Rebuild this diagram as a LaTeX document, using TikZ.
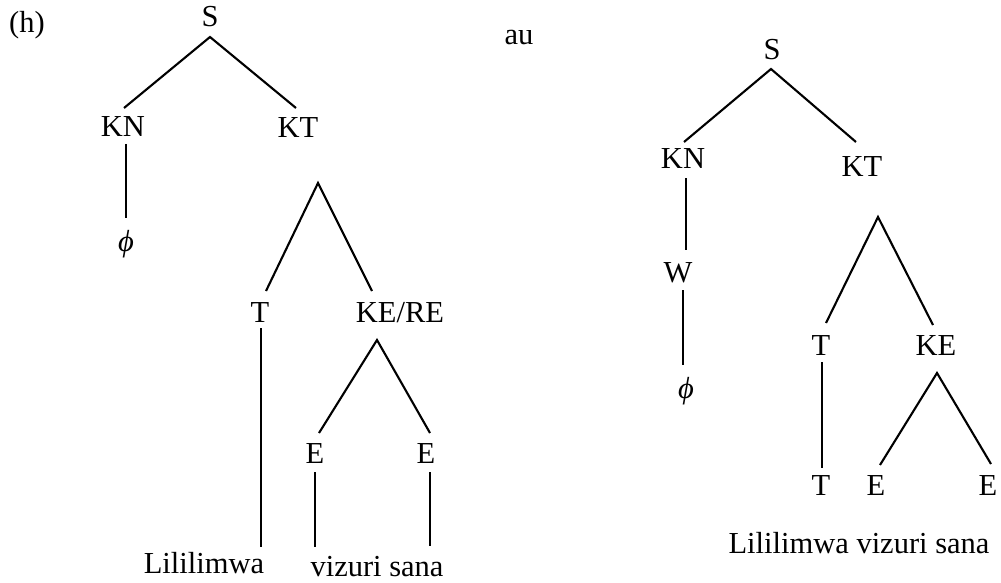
\documentclass[tikz,border=0pt]{standalone}
\usepackage{fontspec}
\setmainfont{Liberation Serif}
\begin{document}
\begin{tikzpicture}[x=1pt,y=-1pt,
  lbl/.style={inner sep=0pt,anchor=base,font=\fontsize{30.5}{36}\selectfont},
  phil/.style={inner sep=0pt,font=\fontsize{30.5}{36}\selectfont\itshape},
  edge/.style={line width=2.1pt}]
\useasboundingbox (0,0) rectangle (1001,583);
% ---------- left tree ----------
\node[lbl] (h) at (27,33) {(h)};
\node[lbl] (S1) at (210,27) {S};
\node[lbl] (KN1) at (123,137) {KN};
\node[lbl] (KT1) at (298,138) {KT};
\node[phil] (phi1) at (126,244) {ϕ};
\node[lbl] (T1) at (260,322) {T};
\node[lbl] (KERE) at (400,322) {KE/RE};
\node[lbl] (E1) at (315,463) {E};
\node[lbl] (E2) at (426,463) {E};
\node[lbl] (w1) at (204,573) {Lililimwa};
\node[lbl] (w2) at (377,576) {vizuri sana};
\coordinate (S1b) at (210,37);
\coordinate (KN1t) at (124,108);
\coordinate (KT1t) at (296,108);
\coordinate (KN1b) at (126,144);
\coordinate (phi1t) at (126,218);
\coordinate (apx1) at (318,183);
\coordinate (T1t) at (266,291);
\coordinate (KERE1t) at (372,291);
\coordinate (T1b) at (261,328);
\coordinate (w1t) at (261,547);
\coordinate (KEREb) at (377,340);
\coordinate (E1t) at (319,433);
\coordinate (E2t) at (430,433);
\coordinate (E1b) at (315,472);
\coordinate (E1e) at (315,547);
\coordinate (E2b) at (430,472);
\coordinate (E2e) at (430,546);
\draw[edge] (KN1t) -- (S1b) -- (KT1t);
\draw[edge] (KN1b) -- (phi1t);
\draw[edge] (T1t) -- (apx1) -- (KERE1t);
\draw[edge] (T1b) -- (w1t);
\draw[edge] (E1t) -- (KEREb) -- (E2t);
\draw[edge] (E1b) -- (E1e);
\draw[edge] (E2b) -- (E2e);
% ---------- right tree ----------
\node[lbl] (au) at (519,45) {au};
\node[lbl] (S2) at (772,60) {S};
\node[lbl] (KN2) at (683,168) {KN};
\node[lbl] (KT2) at (862,176) {KT};
\node[lbl] (W) at (678,282) {W};
\node[phil] (phi2) at (686,391) {ϕ};
\node[lbl] (T2) at (821,355) {T};
\node[lbl] (KE) at (936,355) {KE};
\node[lbl] (T3) at (821,495) {T};
\node[lbl] (E3) at (876,495) {E};
\node[lbl] (E4) at (988,495) {E};
\node[lbl] (w3) at (859,553) {Lililimwa vizuri sana};
\coordinate (S2b) at (771,69);
\coordinate (KN2t) at (684,142);
\coordinate (KT2t) at (856,142);
\coordinate (KN2b) at (686,178);
\coordinate (Wt) at (686,250);
\coordinate (Wb) at (683,290);
\coordinate (phi2t) at (683,365);
\coordinate (apx2) at (878,217);
\coordinate (T2t) at (826,323);
\coordinate (KEt) at (933,325);
\coordinate (T2b) at (822,362);
\coordinate (T3t) at (822,468);
\coordinate (KEb) at (937,373);
\coordinate (E3t) at (880,465);
\coordinate (E4t) at (991,464);
\draw[edge] (KN2t) -- (S2b) -- (KT2t);
\draw[edge] (KN2b) -- (Wt);
\draw[edge] (Wb) -- (phi2t);
\draw[edge] (T2t) -- (apx2) -- (KEt);
\draw[edge] (T2b) -- (T3t);
\draw[edge] (E3t) -- (KEb) -- (E4t);
\end{tikzpicture}
\end{document}
